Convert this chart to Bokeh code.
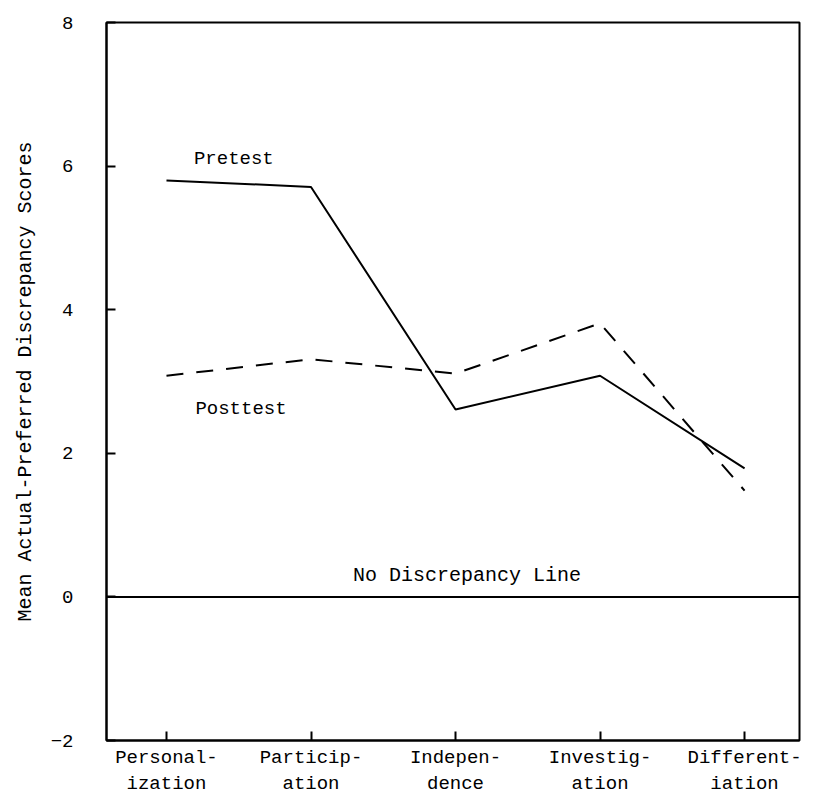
from bokeh.plotting import figure
from bokeh.models import FixedTicker, Span, Label, Range1d, Title
from bokeh.embed import file_html
from bokeh.resources import INLINE

# Data
categories = ["Personal-\nization", "Particip-\nation", "Indepen-\ndence", "Investig-\nation", "Different-\niation"]
pretest = [5.80, 5.71, 2.61, 3.08, 1.79]
posttest = [3.08, 3.31, 3.11, 3.81, 1.48]
y_ticks = [-2, 0, 2, 4, 6, 8]

FONT = "Liberation Mono"
FS = "19px"

xs = list(range(len(categories)))

p = figure(frame_width=693, frame_height=718,
           x_range=Range1d(-0.415, 4.38), y_range=Range1d(-2, 8),
           output_backend="svg", toolbar_location=None,
           min_border_left=106, min_border_top=22, min_border_right=5, min_border_bottom=56,
           background_fill_color="white", border_fill_color="white")

p.xgrid.visible = False
p.ygrid.visible = False
p.outline_line_color = "black"
p.outline_line_width = 2

# x axis
p.xaxis.ticker = FixedTicker(ticks=xs)
p.xaxis.major_label_overrides = {i: c for i, c in enumerate(categories)}
p.xaxis.major_tick_in = 9
p.xaxis.major_tick_out = 0
p.xaxis.minor_tick_line_color = None
p.xaxis.axis_line_width = 2
p.xaxis.major_tick_line_width = 2
p.xaxis.major_label_text_font = FONT
p.xaxis.major_label_text_font_size = FS
p.xaxis.major_label_text_color = "black"
p.xaxis.major_label_standoff = 6

# y axis
p.yaxis.ticker = FixedTicker(ticks=y_ticks)
p.yaxis.major_tick_in = 9
p.yaxis.major_tick_out = 0
p.yaxis.minor_tick_line_color = None
p.yaxis.axis_line_width = 2
p.yaxis.major_tick_line_width = 2
p.yaxis.major_label_text_font = FONT
p.yaxis.major_label_text_font_size = FS
p.yaxis.major_label_text_color = "black"
p.yaxis.major_label_standoff = 33
p.yaxis.major_label_orientation = "horizontal"

# y axis title
ytitle = Title(text="Mean Actual-Preferred Discrepancy Scores", align="center",
               text_font=FONT, text_font_size="20px", text_font_style="normal",
               text_color="black", standoff=22)
p.add_layout(ytitle, "left")

# zero line
p.add_layout(Span(location=0, dimension="width", line_color="black", line_width=2))

# series
p.line(xs, pretest, line_color="black", line_width=2)
p.line(xs, posttest, line_color="black", line_width=2, line_dash="17 13")

# labels
p.add_layout(Label(x=0.19, y=6.1, text="Pretest", text_font=FONT, text_font_size=FS,
                   text_baseline="middle", text_align="left", text_color="black"))
p.add_layout(Label(x=0.20, y=2.62, text="Posttest", text_font=FONT, text_font_size=FS,
                   text_baseline="middle", text_align="left", text_color="black"))
p.add_layout(Label(x=2.08, y=0.30, text="No Discrepancy Line", text_font=FONT, text_font_size="20px",
                   text_baseline="middle", text_align="center", text_color="black"))

open("out.html", "w").write(file_html(p, INLINE))
